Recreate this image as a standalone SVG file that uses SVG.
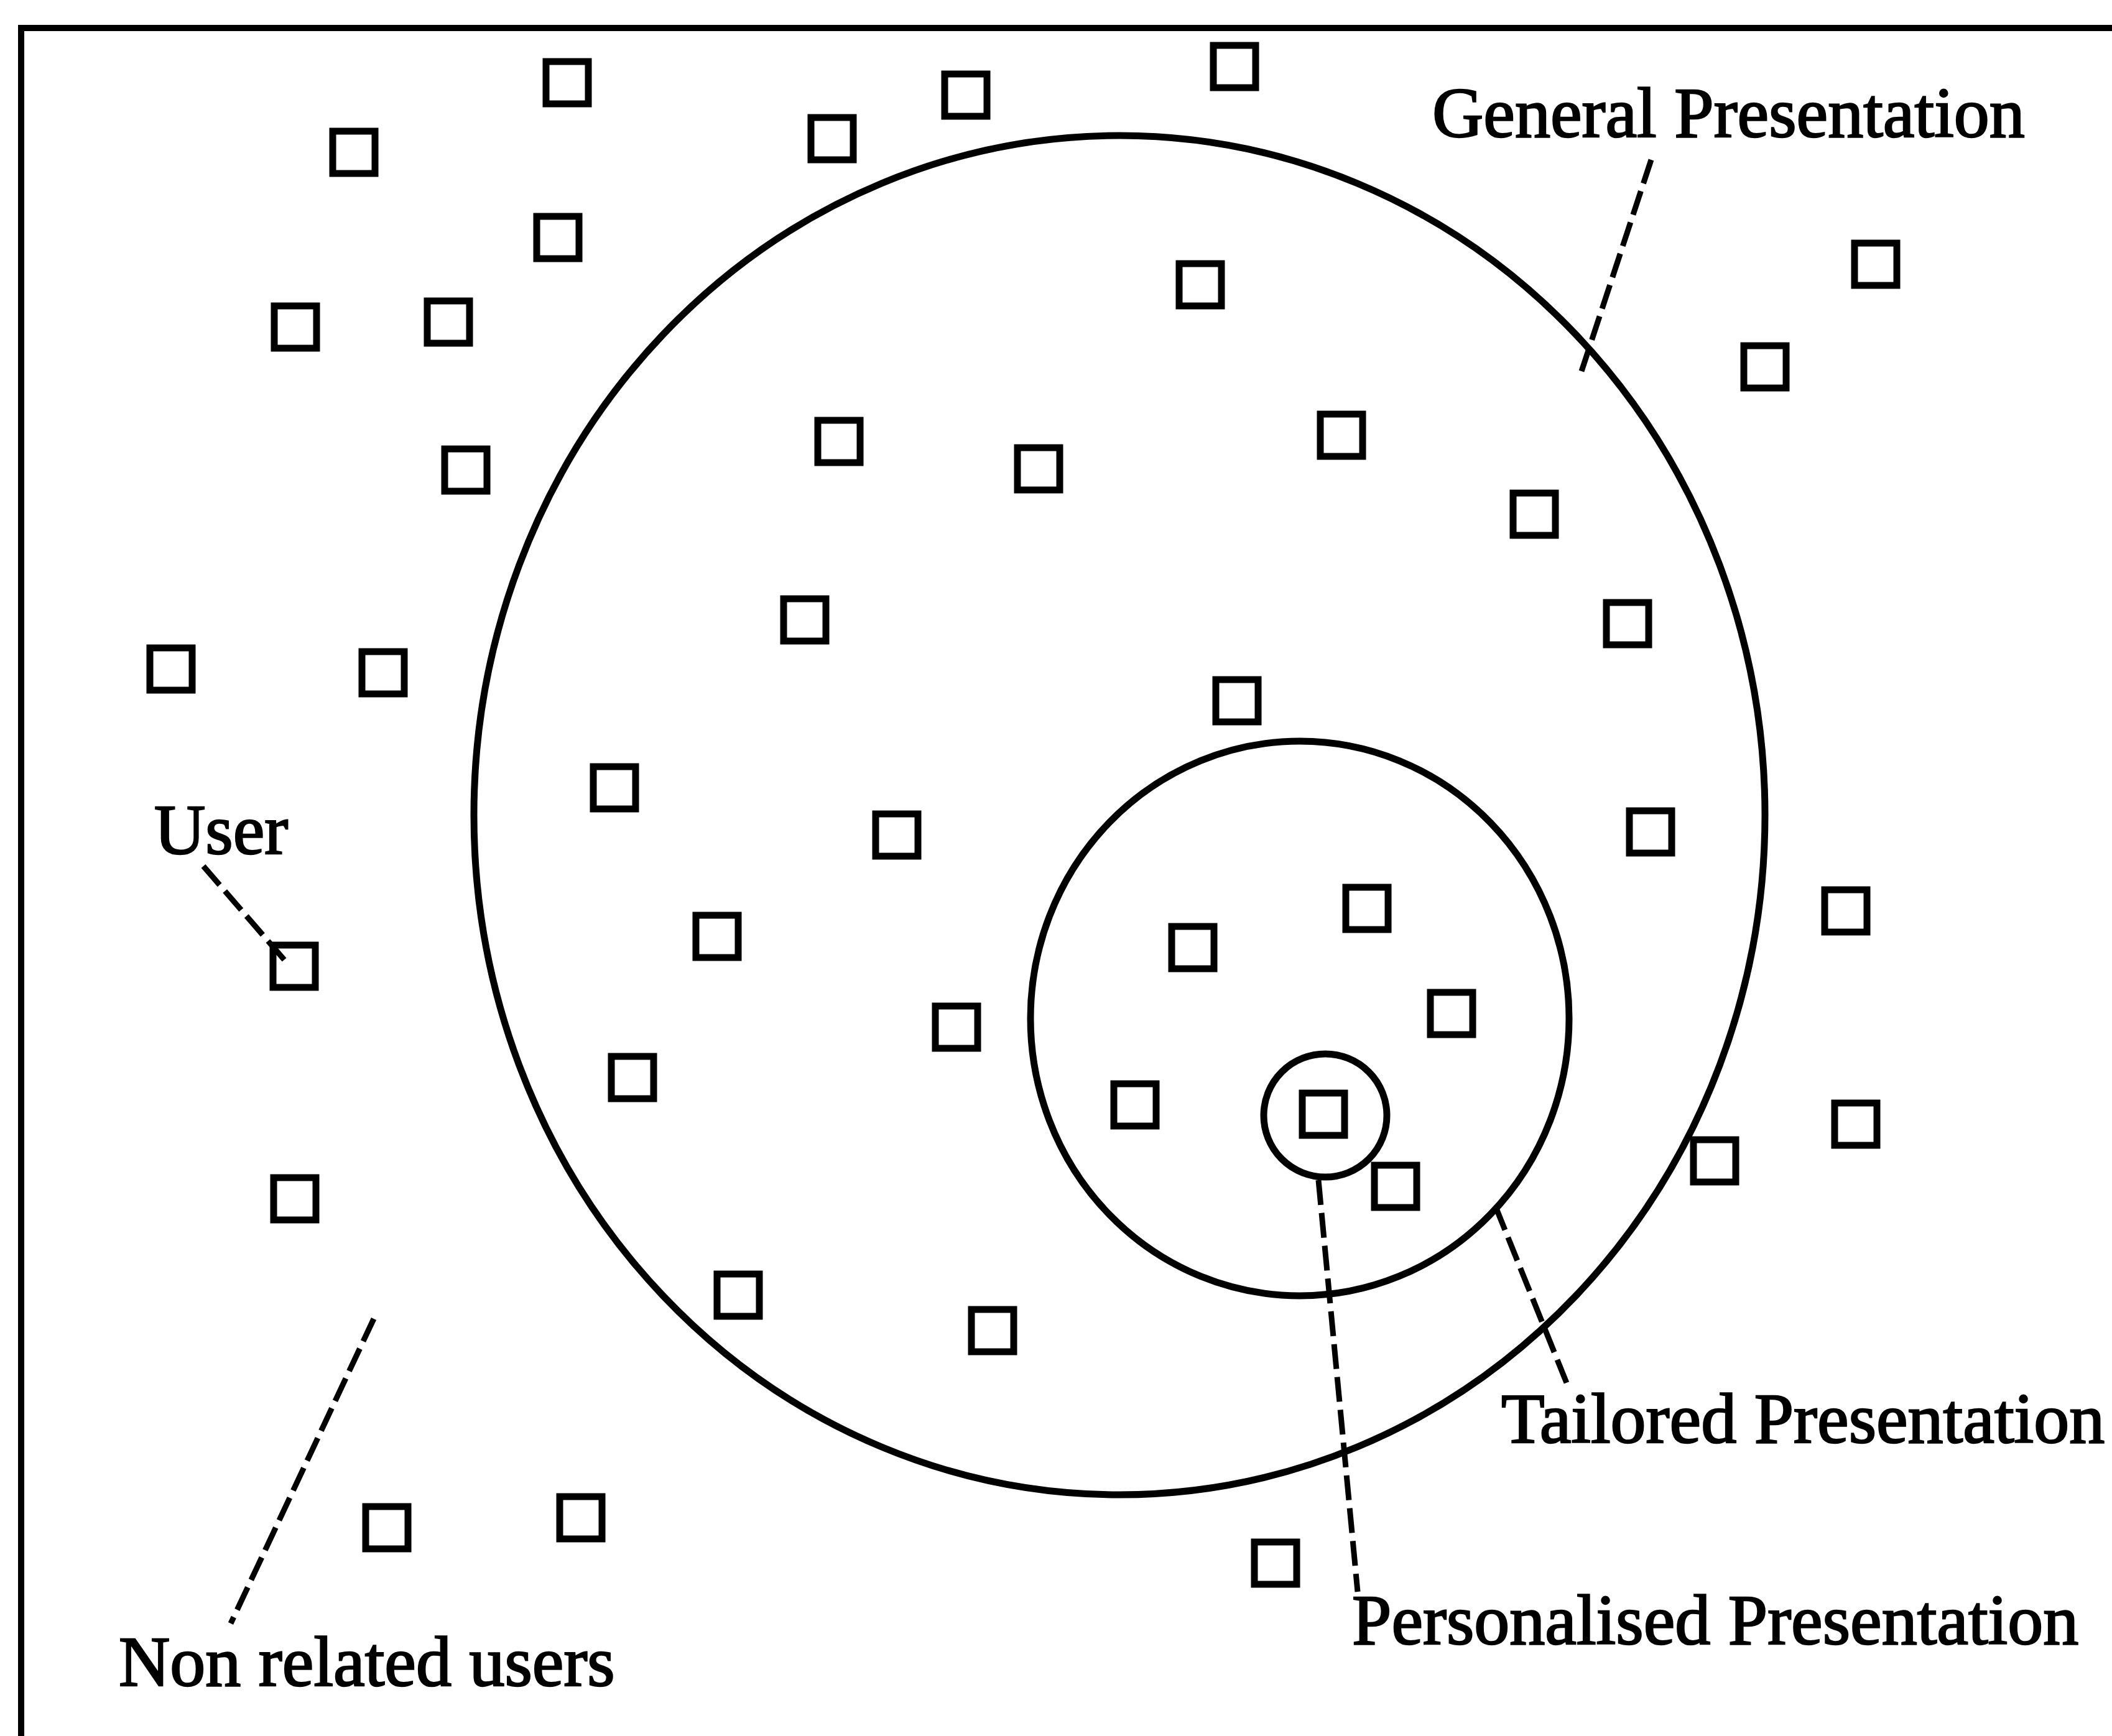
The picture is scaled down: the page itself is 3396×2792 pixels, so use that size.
<svg xmlns="http://www.w3.org/2000/svg" width="3396" height="2792" viewBox="0 0 3396 2792">
  <style>
    .frame { fill: none; stroke: #000; stroke-width: 10; }
    .ring { fill: none; stroke: #000; stroke-width: 11; }
    .user { fill: none; stroke: #000; stroke-width: 11; }
    .lead { fill: none; stroke: #000; stroke-width: 9; stroke-dasharray: 40 13; }
    .label { font-family: "Liberation Serif", "Times New Roman", serif; font-size: 114px; fill: #000; stroke: #000; stroke-width: 2.5; }
  </style>
  <defs>
    <rect id="box" x="-34" y="-34" width="68" height="68"/>
  </defs>
  <rect width="3396" height="2792" fill="#fff"/>

  <!-- open frame: left and top edges only -->
  <path class="frame" d="M34,2792 V45 H3396"/>

  <!-- presentation scopes -->
  <g id="general-presentation"><ellipse class="ring" cx="1800" cy="1311" rx="1038" ry="1093"/></g>
  <g id="tailored-presentation"><ellipse class="ring" cx="2090" cy="1638" rx="433" ry="446"/></g>
  <g id="personalised-presentation"><circle class="ring" cx="2131" cy="1794" r="99"/></g>

  <!-- users -->
  <g id="user-01" class="user"><use href="#box" x="912" y="133"/></g>
  <g id="user-02" class="user"><use href="#box" x="1985" y="107"/></g>
  <g id="user-03" class="user"><use href="#box" x="1553" y="153"/></g>
  <g id="user-04" class="user"><use href="#box" x="1338" y="223"/></g>
  <g id="user-05" class="user"><use href="#box" x="569" y="245"/></g>
  <g id="user-06" class="user"><use href="#box" x="897" y="382"/></g>
  <g id="user-07" class="user"><use href="#box" x="475" y="526"/></g>
  <g id="user-08" class="user"><use href="#box" x="721" y="518"/></g>
  <g id="user-09" class="user"><use href="#box" x="1930" y="458"/></g>
  <g id="user-10" class="user"><use href="#box" x="3016" y="425"/></g>
  <g id="user-11" class="user"><use href="#box" x="2838" y="590"/></g>
  <g id="user-12" class="user"><use href="#box" x="749" y="756"/></g>
  <g id="user-13" class="user"><use href="#box" x="1349" y="710"/></g>
  <g id="user-14" class="user"><use href="#box" x="1670" y="754"/></g>
  <g id="user-15" class="user"><use href="#box" x="2157" y="700"/></g>
  <g id="user-16" class="user"><use href="#box" x="2467" y="827"/></g>
  <g id="user-17" class="user"><use href="#box" x="1294" y="997"/></g>
  <g id="user-18" class="user"><use href="#box" x="2617" y="1003"/></g>
  <g id="user-19" class="user"><use href="#box" x="275" y="1076"/></g>
  <g id="user-20" class="user"><use href="#box" x="616" y="1082"/></g>
  <g id="user-21" class="user"><use href="#box" x="1989" y="1127"/></g>
  <g id="user-22" class="user"><use href="#box" x="988" y="1267"/></g>
  <g id="user-23" class="user"><use href="#box" x="1442" y="1343"/></g>
  <g id="user-24" class="user"><use href="#box" x="2654" y="1338"/></g>
  <g id="user-25" class="user"><use href="#box" x="2968" y="1465"/></g>
  <g id="user-26" class="user"><use href="#box" x="2198" y="1461"/></g>
  <g id="user-27" class="user"><use href="#box" x="1918" y="1524"/></g>
  <g id="user-28" class="user"><use href="#box" x="1153" y="1506"/></g>
  <g id="user-29" class="user"><use href="#box" x="473" y="1554"/></g>
  <g id="user-30" class="user"><use href="#box" x="2334" y="1630"/></g>
  <g id="user-31" class="user"><use href="#box" x="1538" y="1652"/></g>
  <g id="user-32" class="user"><use href="#box" x="1017" y="1733"/></g>
  <g id="user-33" class="user"><use href="#box" x="1825" y="1777"/></g>
  <g id="user-34" class="user"><use href="#box" x="2128" y="1792"/></g>
  <g id="user-35" class="user"><use href="#box" x="2984" y="1808"/></g>
  <g id="user-36" class="user"><use href="#box" x="2757" y="1867"/></g>
  <g id="user-37" class="user"><use href="#box" x="2244" y="1908"/></g>
  <g id="user-38" class="user"><use href="#box" x="474" y="1928"/></g>
  <g id="user-39" class="user"><use href="#box" x="1187" y="2083"/></g>
  <g id="user-40" class="user"><use href="#box" x="1596" y="2140"/></g>
  <g id="user-41" class="user"><use href="#box" x="622" y="2457"/></g>
  <g id="user-42" class="user"><use href="#box" x="934" y="2441"/></g>
  <g id="user-43" class="user"><use href="#box" x="2051" y="2514"/></g>

  <!-- dashed leader lines from labels -->
  <g id="connectors">
    <path class="lead" d="M2655,257 L2543,597"/>
    <path class="lead" d="M327,1393 L460,1547"/>
    <path class="lead" d="M601,2121 L371,2611"/>
    <path class="lead" d="M2405,1941 L2521,2229"/>
    <path class="lead" d="M2120,1898 L2183,2560"/>
  </g>

  <!-- labels -->
  <g id="labels">
    <text class="label" x="2303" y="220">General Presentation</text>
    <text class="label" x="248" y="1373">User</text>
    <text class="label" x="2414" y="2320">Tailored Presentation</text>
    <text class="label" x="2174" y="2644">Personalised Presentation</text>
    <text class="label" x="191" y="2711">Non related users</text>
  </g>
</svg>
